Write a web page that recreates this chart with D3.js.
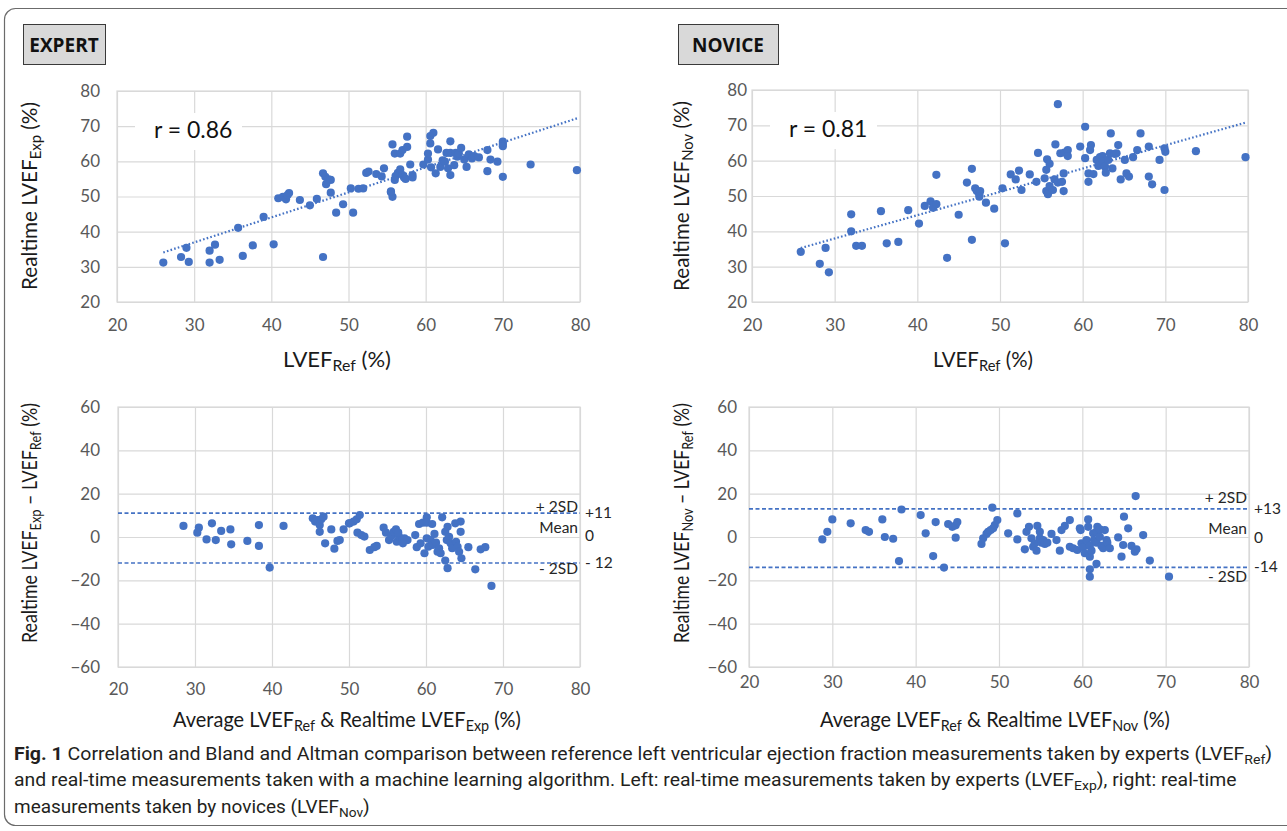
<!DOCTYPE html>
<html>
<head>
<meta charset="utf-8">
<script src="https://cdn.jsdelivr.net/npm/d3@7"></script>
<style>
  body { margin: 0; background: #fff; }
  svg { display: block; font-family: Lato, "Open Sans", sans-serif; }
</style>
</head>
<body>
<svg id="fig" width="1287" height="831"></svg>
<script>
// values
const expertRef = [26.0, 28.3, 29.0, 29.3, 32.0, 32.0, 32.7, 33.3, 36.3, 35.7, 37.6, 39.0, 40.3, 40.9, 41.5, 41.9, 42.1, 42.3, 43.7, 45.0,
  45.9, 46.7, 47.0, 47.4, 47.7, 47.1, 47.7, 46.7, 48.4, 49.3, 50.3, 50.6, 51.3, 51.9, 52.3, 52.6, 53.6, 54.3, 54.6, 55.7,
  56.0, 56.7, 57.0, 57.6, 57.6, 55.5, 55.7, 55.5, 56.0, 56.1, 56.4, 56.7, 57.0, 57.2, 57.4, 58.0, 58.3, 58.3, 59.7, 60.3,
  60.3, 60.6, 60.6, 61.0, 60.7, 61.3, 61.6, 61.9, 62.2, 62.5, 62.7, 62.9, 63.2, 63.2, 63.2, 63.7, 63.9, 64.1, 64.3, 64.6,
  65.0, 65.3, 65.6, 66.0, 66.3, 66.9, 68.0, 68.4, 68.0, 69.3, 70.0, 70.0, 70.0, 70.0, 73.6, 79.6];
const expertRealtime = [31.2, 32.8, 35.4, 31.4, 31.2, 34.6, 36.3, 32.0, 33.1, 41.1, 36.1, 44.2, 36.4, 49.5, 49.9, 49.2, 50.4, 51.0, 49.0, 47.5,
  49.3, 56.6, 55.6, 54.9, 54.7, 53.5, 51.1, 32.8, 45.4, 47.8, 52.3, 45.4, 52.2, 52.3, 56.7, 57.1, 56.4, 55.7, 58.0, 64.8,
  62.2, 62.2, 63.2, 64.1, 67.0, 51.2, 49.9, 51.5, 54.7, 55.8, 56.7, 57.7, 56.1, 55.4, 55.0, 59.1, 56.1, 55.4, 59.1, 60.5,
  62.2, 65.1, 67.2, 68.1, 58.3, 56.6, 63.4, 58.4, 60.3, 59.9, 62.4, 58.0, 56.1, 62.4, 65.7, 58.9, 62.4, 61.3, 62.2, 63.8,
  60.5, 58.4, 62.0, 60.8, 61.5, 61.1, 63.2, 60.5, 57.2, 59.9, 55.6, 65.6, 64.9, 64.3, 59.1, 57.5];

const noviceRef = [25.9, 28.2, 28.9, 29.3, 32.0, 32.0, 32.6, 33.3, 35.6, 36.3, 37.7, 38.9, 40.2, 40.9, 41.6, 41.9, 42.3, 42.3, 43.6, 45.0,
  46.0, 46.6, 46.6, 47.0, 47.2, 47.5, 47.6, 47.5, 48.3, 49.3, 50.3, 50.6, 51.3, 51.9, 52.3, 52.6, 53.6, 54.4, 54.6, 55.4,
  55.6, 55.7, 56.0, 55.6, 55.8, 56.0, 56.4, 56.6, 57.0, 57.5, 57.7, 57.7, 56.7, 57.3, 57.8, 58.2, 58.2, 57.0, 59.7, 60.3,
  60.3, 60.7, 60.7, 60.9, 61.0, 61.3, 61.7, 61.9, 62.1, 62.4, 62.5, 62.7, 62.8, 63.1, 63.3, 63.4, 63.6, 63.9, 64.1, 64.3,
  64.6, 65.1, 65.3, 65.6, 66.1, 66.6, 67.0, 68.0, 68.0, 68.4, 69.3, 69.9, 70.0, 69.9, 73.7, 79.7];
const noviceRealtime = [34.2, 30.8, 35.3, 28.4, 44.8, 40.0, 35.9, 35.9, 45.7, 36.6, 37.0, 46.0, 42.2, 47.2, 48.5, 46.7, 47.7, 56.0, 32.5, 44.7,
  53.8, 57.7, 37.6, 52.2, 51.4, 50.5, 51.4, 49.8, 48.1, 46.4, 52.2, 36.6, 56.1, 54.7, 57.2, 51.7, 56.1, 54.0, 62.2, 55.0,
  57.4, 60.4, 59.1, 51.4, 50.5, 52.8, 51.7, 54.7, 53.8, 54.0, 56.4, 51.4, 64.6, 62.1, 62.3, 63.0, 61.3, 76.0, 64.0, 69.6,
  60.7, 56.4, 54.0, 63.0, 64.4, 56.2, 60.2, 58.5, 61.0, 61.3, 59.7, 58.3, 56.6, 60.2, 62.1, 67.7, 57.8, 61.9, 62.1, 64.4,
  54.7, 60.2, 56.4, 55.5, 61.0, 63.0, 67.7, 64.0, 55.5, 53.3, 60.2, 63.5, 62.5, 51.7, 62.7, 61.0];

const expertBaMean = [28.5, 30.5, 30.3, 31.5, 32.2, 32.7, 33.4, 34.6, 34.7, 36.8, 38.3, 38.3, 39.7, 41.5, 45.3, 45.6, 45.9, 46.2, 46.4, 46.7,
  46.2, 46.9, 47.7, 48.1, 48.5, 49.3, 50.0, 48.8, 50.1, 50.6, 51.0, 51.4, 51.1, 51.6, 52.0, 52.7, 53.3, 53.6, 54.5, 54.8,
  55.2, 55.5, 55.8, 56.1, 56.2, 56.5, 56.9, 57.2, 57.6, 57.0, 56.4, 58.6, 59.1, 59.6, 60.1, 60.1, 60.8, 58.8, 59.3, 59.8,
  60.1, 60.3, 60.6, 60.9, 61.1, 61.3, 61.5, 61.7, 61.9, 62.1, 62.5, 62.7, 62.8, 63.0, 63.2, 63.4, 63.8, 63.9, 64.1, 64.3,
  64.5, 64.5, 64.6, 62.5, 62.8, 65.5, 66.4, 67.1, 67.7, 68.5];
const expertBaDiff = [5.1, 4.3, 2.0, -1.1, 6.3, -1.4, 2.8, 3.5, -3.4, -1.8, 5.5, -4.1, -14.1, 5.1, 8.6, 7.1, 7.8, 5.5, 8.2, 9.4,
  2.4, -2.9, 3.5, -5.4, -1.8, 3.5, 6.3, -1.4, 6.3, 7.1, 8.2, 10.1, 2.0, 0.9, 0.2, -6.0, -4.7, -4.1, 4.3, 2.0,
  -1.4, 0.5, 2.4, 3.5, -2.2, 0.1, -1.4, -0.6, -1.4, -2.9, 2.0, 0.9, 6.0, 6.6, 9.1, 6.6, 6.0, -4.7, -2.9, -7.5,
  -0.6, -4.5, -1.4, -3.7, 1.4, -2.6, -6.8, -5.2, -7.5, 9.1, 2.4, -1.4, 4.7, 0.1, -2.9, -5.2, 6.3, -2.2, -4.5, -6.8,
  7.1, 2.4, -9.8, -10.9, -14.4, -4.7, -14.9, -5.7, -4.7, -22.6];

const noviceBaMean = [28.8, 29.4, 30.0, 32.2, 34.0, 34.4, 36.0, 36.3, 37.3, 38.0, 38.3, 40.6, 41.2, 42.1, 42.4, 43.4, 43.9, 44.4, 44.8, 45.0,
  44.8, 47.9, 48.1, 48.5, 48.7, 49.0, 49.3, 49.5, 49.8, 49.2, 52.2, 51.1, 52.2, 53.1, 53.3, 53.6, 53.9, 54.1, 54.3, 54.5,
  54.6, 54.9, 54.9, 55.1, 55.3, 55.5, 55.8, 56.3, 56.9, 57.3, 57.5, 57.9, 58.5, 58.5, 58.9, 59.4, 59.7, 59.8, 59.9, 60.1,
  60.3, 60.5, 60.7, 60.7, 60.9, 60.9, 61.1, 61.3, 61.4, 61.7, 61.7, 61.8, 62.1, 62.1, 62.3, 62.5, 62.7, 62.9, 63.0, 63.3,
  61.7, 60.9, 60.9, 64.3, 64.7, 64.9, 65.0, 65.5, 65.9, 66.3, 66.5, 67.3, 68.1, 66.4, 70.4];
const noviceBaDiff = [-1.1, 2.4, 8.1, 6.3, 3.2, 2.4, 8.1, 0.0, -0.8, -11.1, 12.7, 10.1, 1.7, -8.8, 6.9, -14.1, 6.0, 4.7, 5.4, 6.9,
  -0.3, -3.2, -0.6, 1.4, 2.4, 3.2, 4.0, 5.5, 7.8, 13.6, 10.9, 1.7, -1.1, -5.7, 2.4, 4.7, -0.6, -4.5, -2.9, -6.3,
  5.1, 2.4, -0.6, -2.6, -1.4, -3.2, -2.6, 1.4, -1.4, -6.3, 3.2, 5.1, 7.8, -4.5, -5.2, -6.0, 4.0, 3.2, -2.9, -4.7,
  -7.5, -1.4, 8.1, 4.7, -4.1, -9.1, -6.3, 1.7, -1.4, -2.6, 2.4, 4.7, 0.1, 3.5, -4.1, -5.2, 3.2, -1.4, -2.6, -5.2,
  -12.4, -14.9, -18.3, -0.2, -9.1, -3.7, 9.4, 4.0, -4.1, -6.8, -5.7, 0.9, -10.9, 18.9, -18.3];

const scatterTicks = [20, 30, 40, 50, 60, 70, 80];
const baXTicks = [20, 30, 40, 50, 60, 70, 80];
const baYTicks = [-60, -40, -20, 0, 20, 40, 60];
const rValues = ["0.86", "0.81"];
const limitNames = ["+ 2SD", "Mean", "- 2SD"];
const expertLimits = [11, 0, -12];
const noviceLimits = [13, 0, -14];
const expertLimitText = ["+11", "0", "- 12"];
const noviceLimitText = ["+13", "0", "-14"];
const groupNames = ["EXPERT", "NOVICE"];

const svg = d3.select("#fig");
const blue = "#4472c4";
const gridColor = "#d9d9d9";
const tickColor = "#595959";

// outer frame of the figure
svg.append("rect")
  .attr("x", 4.5).attr("y", 8.5)
  .attr("width", 1310).attr("height", 817)
  .attr("rx", 11)
  .attr("fill", "none")
  .attr("stroke", "#6b6b6b")
  .attr("stroke-width", 1.2);

function richText(sel, parts) {
  // parts: [text, isSub]
  let shifted = false;
  parts.forEach(([str, sub]) => {
    const t = sel.append("tspan").text(str);
    if (sub && !shifted) { t.attr("dy", "0.3em").attr("font-size", "0.72em"); shifted = true; }
    else if (sub) t.attr("font-size", "0.72em");
    else if (shifted) { t.attr("dy", "-0.216em"); shifted = false; }
  });
}

// squeeze or stretch a title to the width it has in the figure
function fitTitle(t, cx, cy, width, rotate) {
  const w = t.node().getComputedTextLength();
  t.attr("transform", `translate(${cx},${cy})${rotate ? " rotate(-90)" : ""} scale(${width / w},1)`);
}

function drawPanel(p) {
  const g = svg.append("g");
  const x = d3.scaleLinear().domain([p.xTicks[0], p.xTicks[p.xTicks.length - 1]]).range([p.left, p.right]);
  const y = d3.scaleLinear().domain([p.yTicks[0], p.yTicks[p.yTicks.length - 1]]).range([p.bottom, p.top]);

  // gridlines
  const gx = g.append("g")
    .attr("transform", `translate(0,${p.bottom})`)
    .call(d3.axisBottom(x).tickValues(p.xTicks).tickSize(-(p.bottom - p.top)).tickFormat(""));
  const gy = g.append("g")
    .attr("transform", `translate(${p.left},0)`)
    .call(d3.axisLeft(y).tickValues(p.yTicks).tickSize(-(p.right - p.left)).tickFormat(""));
  [gx, gy].forEach(a => {
    a.select(".domain").remove();
    a.selectAll("line").attr("stroke", gridColor).attr("stroke-width", 1.2);
  });

  g.append("rect")
    .attr("x", p.left).attr("y", p.top)
    .attr("width", p.right - p.left).attr("height", p.bottom - p.top)
    .attr("fill", "none").attr("stroke", gridColor).attr("stroke-width", 1.2);

  // tick labels
  const lx = g.append("g")
    .attr("transform", `translate(0,${p.bottom})`)
    .call(d3.axisBottom(x).tickValues(p.xTicks).tickSize(0).tickPadding(p.xPad));
  const ly = g.append("g")
    .attr("transform", `translate(${p.left},0)`)
    .call(d3.axisLeft(y).tickValues(p.yTicks).tickSize(0).tickPadding(p.yPad));
  [lx, ly].forEach(a => {
    a.select(".domain").remove();
    a.selectAll("text").attr("fill", tickColor).attr("font-size", 17).attr("font-family", "Lato, sans-serif");
  });

  // r label with white backing
  if (p.r) {
    g.append("rect")
      .attr("x", p.left + 18).attr("y", p.top + 22)
      .attr("width", 107).attr("height", 37)
      .attr("fill", "#fff");
    g.append("text")
      .attr("x", p.left + 37).attr("y", p.top + 47)
      .attr("font-size", 23).attr("fill", "#111")
      .text("r = " + p.r);
  }

  // Bland-Altman limits
  if (p.limits) {
    p.limits.forEach((v, i) => {
      if (i !== 1) {
        g.append("line")
          .attr("x1", p.left).attr("x2", p.right)
          .attr("y1", y(v)).attr("y2", y(v))
          .attr("stroke", blue).attr("stroke-width", 1.6)
          .attr("stroke-dasharray", "4,2.5");
      }
      g.append("text")
        .attr("x", p.right - 2)
        .attr("y", y(v) + p.nameShift[i])
        .attr("text-anchor", "end")
        .attr("font-size", 15.5).attr("fill", "#262626")
        .text(limitNames[i]);
      g.append("text")
        .attr("x", p.right + 5)
        .attr("y", y(v) + p.valueShift[i])
        .attr("font-size", 15.5).attr("fill", "#262626")
        .text(p.limitText[i]);
    });
  }

  // trend line (least squares)
  if (p.trend) {
    const mx = d3.mean(p.xs), my = d3.mean(p.ys);
    const sxy = d3.sum(p.xs, (d, i) => (d - mx) * (p.ys[i] - my));
    const sxx = d3.sum(p.xs, d => (d - mx) * (d - mx));
    const slope = sxy / sxx, icpt = my - slope * mx;
    const ext = d3.extent(p.xs);
    g.append("path")
      .attr("d", d3.line().x(d => x(d)).y(d => y(icpt + slope * d))(ext))
      .attr("fill", "none").attr("stroke", blue)
      .attr("stroke-width", 2.2).attr("stroke-dasharray", "1.6,2.2");
  }

  // points
  g.append("g").selectAll("circle")
    .data(p.xs)
    .join("circle")
    .attr("cx", d => x(d))
    .attr("cy", (d, i) => y(p.ys[i]))
    .attr("r", 4.1)
    .attr("fill", blue);

  // axis titles
  const xt = g.append("text")
    .attr("text-anchor", "middle").attr("font-size", 20.5).attr("fill", "#1a1a1a");
  richText(xt, p.xTitle);
  fitTitle(xt, p.xTitlePos[0], p.xTitlePos[1], p.xTitleWidth, false);
  const yt = g.append("text")
    .attr("text-anchor", "middle").attr("font-size", 20.5).attr("fill", "#1a1a1a");
  richText(yt, p.yTitle);
  fitTitle(yt, p.yTitlePos[0], p.yTitlePos[1], p.yTitleWidth, true);
}

const panels = [
  { xs: expertRef, ys: expertRealtime, xTicks: scatterTicks, yTicks: scatterTicks,
    left: 117, right: 580, top: 91, bottom: 302, xPad: 17, yPad: 17, r: rValues[0], trend: true,
    xTitle: [["LVEF"], ["Ref", 1], [" (%)"]], xTitlePos: [337, 367], xTitleWidth: 108,
    yTitle: [["Realtime LVEF"], ["Exp", 1], [" (%)"]], yTitlePos: [37, 196], yTitleWidth: 188 },
  { xs: noviceRef, ys: noviceRealtime, xTicks: scatterTicks, yTicks: scatterTicks,
    left: 752, right: 1248, top: 90, bottom: 302, xPad: 17, yPad: 5, r: rValues[1], trend: true,
    xTitle: [["LVEF"], ["Ref", 1], [" (%)"]], xTitlePos: [983, 367], xTitleWidth: 100,
    yTitle: [["Realtime LVEF"], ["Nov", 1], [" (%)"]], yTitlePos: [689, 196], yTitleWidth: 190 },
  { xs: expertBaMean, ys: expertBaDiff, xTicks: baXTicks, yTicks: baYTicks,
    left: 118, right: 580, top: 407, bottom: 667, xPad: 16, yPad: 18,
    limits: expertLimits, limitText: expertLimitText, nameShift: [-1, -4, 11], valueShift: [5, 4, 5],
    xTitle: [["Average LVEF"], ["Ref", 1], [" & Realtime LVEF"], ["Exp", 1], [" (%)"]], xTitlePos: [347, 727], xTitleWidth: 348,
    yTitle: [["Realtime LVEF"], ["Exp", 1], [" \u2013 LVEF"], ["Ref", 1], [" (%)"]], yTitlePos: [37, 523], yTitleWidth: 240 },
  { xs: noviceBaMean, ys: noviceBaDiff, xTicks: baXTicks, yTicks: baYTicks,
    left: 749, right: 1249, top: 407, bottom: 667, xPad: 9, yPad: 12,
    limits: noviceLimits, limitText: noviceLimitText, nameShift: [-6, -3, 15], valueShift: [5, 6, 5],
    xTitle: [["Average LVEF"], ["Ref", 1], [" & Realtime LVEF"], ["Nov", 1], [" (%)"]], xTitlePos: [995, 727], xTitleWidth: 350,
    yTitle: [["Realtime LVEF"], ["Nov", 1], [" \u2013 LVEF"], ["Ref", 1], [" (%)"]], yTitlePos: [689, 523], yTitleWidth: 240 }
];
panels.forEach(drawPanel);

// group tags
[[23, 82], [678, 100]].forEach(([x0, w], i) => {
  svg.append("rect")
    .attr("x", x0 + 0.5).attr("y", 24.5).attr("width", w).attr("height", 40)
    .attr("fill", "#d9d9d9").attr("stroke", "#3a3a3a").attr("stroke-width", 1);
  svg.append("text")
    .attr("x", x0 + w / 2).attr("y", 52)
    .attr("text-anchor", "middle")
    .attr("font-size", 19).attr("font-weight", 700).attr("fill", "#111")
    .attr("font-family", "'Open Sans', sans-serif")
    .text(groupNames[i]);
});

// caption
const capLines = [
  [["Fig. 1", 0, 1], ["  Correlation and Bland and Altman comparison between reference left ventricular ejection fraction measurements taken by experts (LVEF"], ["Ref", 1], [")"]],
  [["and real-time measurements taken with a machine learning algorithm. Left: real-time measurements taken by experts (LVEF"], ["Exp", 1], ["), right: real-time"]],
  [["measurements taken by novices (LVEF"], ["Nov", 1], [")"]]
];
const capWidths = [1259, 1223, 356];
capLines.forEach((parts, i) => {
  const t = svg.append("text")
    .attr("x", 14).attr("y", 760 + i * 26.5)
    .attr("font-size", 17.5).attr("fill", "#231f20")
    .attr("font-family", "Roboto, 'DejaVu Sans Condensed', sans-serif");
  richText(t, parts);
  t.selectAll("tspan").filter((d, j) => parts[j] && parts[j][2]).attr("font-weight", 700);
  const w = t.node().getComputedTextLength();
  const s = capWidths[i] / w;
  t.attr("transform", `translate(14,0) scale(${s},1) translate(-14,0)`);
});
</script>
</body>
</html>
